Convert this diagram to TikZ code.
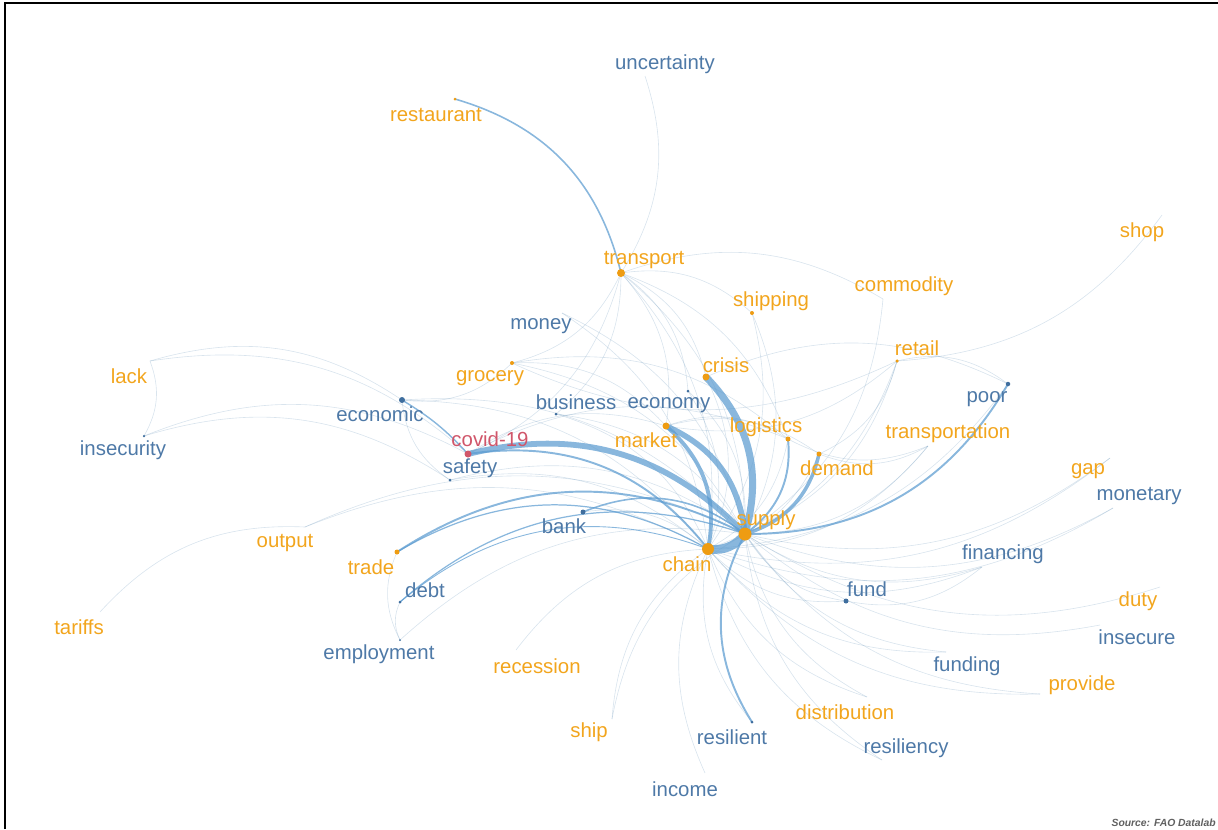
\documentclass[tikz,border=0pt]{standalone}
\usepackage{fontspec}
\setmainfont{Liberation Sans}
\usetikzlibrary{positioning}
\definecolor{wordorange}{HTML}{F2A51D}
\definecolor{wordblue}{HTML}{4E79A7}
\definecolor{wordred}{HTML}{D0566A}
\definecolor{linkblue}{HTML}{5B9BD0}
\definecolor{dotorange}{HTML}{EE9C12}
\definecolor{dotblue}{HTML}{3F6E9E}
\tikzset{
  termO/.style={text=wordorange, inner sep=0pt, font=\fontsize{11.6}{13}\selectfont},
  termB/.style={termO, text=wordblue},
  termR/.style={termO, text=wordred},
  dotO/.style={circle, fill=dotorange, inner sep=0pt, minimum size=#1},
  dotO/.default=0.6mm,
  dotB/.style={circle, fill=dotblue, inner sep=0pt, minimum size=#1},
  dotB/.default=0.6mm,
  strong/.style={draw=linkblue, opacity=0.72, line width=#1},
  faint/.style={draw=linkblue!70!gray, opacity=0.25, line width=0.35pt},
}
\begin{document}
\begin{tikzpicture}[x=0.02cm, y=-0.02cm]
  \useasboundingbox (0,0) rectangle (1218,829);
  \draw[line width=1.1pt] (5,829) -- (5,3) -- (1218,3);

  % word positions (dots)
  \coordinate (uncertainty) at (645,76);
  \coordinate (restaurant) at (455,99);
  \coordinate (transport) at (621,273);
  \coordinate (shipping) at (752,313);
  \coordinate (commodity) at (883,299);
  \coordinate (shop) at (1162,215);
  \coordinate (retail) at (897,361);
  \coordinate (poor) at (1008,384);
  \coordinate (money) at (562,313);
  \coordinate (lack) at (150,361);
  \coordinate (insecurity) at (144,436);
  \coordinate (economic) at (402,400);
  \coordinate (grocery) at (512,363);
  \coordinate (business) at (556,414);
  \coordinate (economy) at (688,391);
  \coordinate (crisis) at (706,377);
  \coordinate (covid) at (468,454);
  \coordinate (safety) at (450,480);
  \coordinate (market) at (666,426);
  \coordinate (logistics) at (788,439);
  \coordinate (demand) at (819,454);
  \coordinate (transportation) at (928,446);
  \coordinate (gap) at (1110,458);
  \coordinate (monetary) at (1113,508);
  \coordinate (supply) at (745,534);
  \coordinate (chain) at (708,549);
  \coordinate (bank) at (583,512);
  \coordinate (trade) at (397,552);
  \coordinate (output) at (305,527);
  \coordinate (debt) at (400,602);
  \coordinate (tariffs) at (100,612);
  \coordinate (employment) at (400,640);
  \coordinate (financing) at (982,567);
  \coordinate (fund) at (846,601);
  \coordinate (duty) at (1160,587);
  \coordinate (insecure) at (1100,625);
  \coordinate (funding) at (946,652);
  \coordinate (provide) at (1040,694);
  \coordinate (recession) at (516,650);
  \coordinate (ship) at (612,719);
  \coordinate (resilient) at (752,722);
  \coordinate (distribution) at (867,697);
  \coordinate (resiliency) at (882,760);
  \coordinate (income) at (705,773);

  % faint links
  \foreach \a/\b in {uncertainty/transport, transport/supply, transport/chain,
      transport/market, transport/grocery, transport/shipping, transport/commodity,
      transport/crisis, transport/logistics, transport/covid, transport/business,
      transport/economy, shipping/supply, shipping/chain, commodity/supply,
      retail/supply, retail/chain, retail/market, retail/grocery, retail/poor,
      crisis/poor, shop/retail, transportation/supply, transportation/logistics,
      transportation/demand, transportation/chain, gap/supply, gap/chain,
      monetary/supply, monetary/chain, financing/supply, financing/chain,
      financing/fund, fund/supply, fund/chain, duty/supply, insecure/supply,
      funding/supply, funding/chain, provide/supply, provide/chain,
      distribution/supply, distribution/chain, resiliency/supply, resiliency/chain,
      income/chain, ship/chain, ship/supply, recession/chain, employment/supply,
      employment/debt, employment/trade, tariffs/output, output/supply, output/chain,
      safety/supply, safety/chain, safety/economic, insecurity/safety, insecurity/covid,
      lack/economic, lack/covid, lack/insecurity, grocery/supply, grocery/economic,
      grocery/market, grocery/logistics, money/supply, money/chain, business/supply,
      business/chain, economy/supply, economy/chain, bank/chain, economic/supply,
      economic/chain, market/demand, market/logistics, covid/market, covid/logistics,
      demand/chain, logistics/chain, crisis/chain, poor/chain, retail/demand,
      resilient/chain}
    \draw[faint] (\a) to[bend left=25] (\b);

  % strong links
  \foreach \a/\b/\w in {supply/chain/5pt, crisis/supply/4pt, covid/supply/3.3pt,
      market/supply/3.2pt, market/chain/2.2pt, demand/supply/2pt, covid/chain/1.1pt,
      logistics/supply/1.1pt, poor/supply/1.1pt, trade/supply/1.1pt,
      resilient/supply/1.1pt, bank/supply/0.9pt, restaurant/transport/0.9pt,
      trade/chain/0.7pt, debt/supply/0.7pt, debt/chain/0.5pt}
    \draw[strong=\w] (\a) to[bend left=30] (\b);
  \draw[strong=0.8pt] (economic) to[bend left=8] (covid);

  % dots
  \node[dotO=2.6mm] (supply-d) at (supply) {};
  \node[dotO=2.4mm] (chain-d) at (chain) {};
  \node[dotO=1.6mm] (transport-d) at (transport) {};
  \node[dotO=1.4mm] (market-d) at (market) {};
  \node[dotO=1.4mm] (crisis-d) at (crisis) {};
  \node[circle, fill=wordred, inner sep=0pt, minimum size=1.4mm] (covid-d) at (covid) {};
  \node[dotB=1.2mm] (economic-d) at (economic) {};
  \node[dotO=1mm] (logistics-d) at (logistics) {};
  \node[dotO=1mm] (demand-d) at (demand) {};
  \node[dotO=1mm] (trade-d) at (trade) {};
  \node[dotB=1mm] (bank-d) at (bank) {};
  \node[dotB=1mm] (fund-d) at (fund) {};
  \node[dotB=0.9mm] (poor-d) at (poor) {};
  \node[dotO=0.8mm] (grocery-d) at (grocery) {};
  \node[dotO=0.8mm] (shipping-d) at (shipping) {};
  \node[dotO=0.7mm] (retail-d) at (retail) {};
  \node[dotO] (restaurant-d) at (restaurant) {};
  \node[dotB] (business-d) at (business) {};
  \node[dotB] (economy-d) at (economy) {};
  \node[dotB] (safety-d) at (safety) {};
  \node[dotB] (debt-d) at (debt) {};
  \node[dotB] (resilient-d) at (resilient) {};
  \node[dotB=0.5mm] (insecurity-d) at (insecurity) {};
  \node[dotB=0.4mm] (employment-d) at (employment) {};

  % words
  \node[termB] (uncertainty-t) at (665,64) {uncertainty};
  \node[termO] (restaurant-t) at (436,115) {restaurant};
  \node[termO] (transport-t) at (644,260) {transport};
  \node[termO] (shipping-t) at (771,301) {shipping};
  \node[termO] (commodity-t) at (904,286) {commodity};
  \node[termO] (shop-t) at (1142,232) {shop};
  \node[termO] (retail-t) at (917,348) {retail};
  \node[termB] (poor-t) at (987,399) {poor};
  \node[termB] (money-t) at (541,326) {money};
  \node[termO] (lack-t) at (129,376) {lack};
  \node[termB] (insecurity-t) at (123,450) {insecurity};
  \node[termB] (economic-t) at (380,414) {economic};
  \node[termO] (grocery-t) at (490,378) {grocery};
  \node[termB] (business-t) at (576,402) {business};
  \node[termB] (economy-t) at (669,405) {economy};
  \node[termO] (crisis-t) at (726,365) {crisis};
  \node[termR] (covid-t) at (490,439) {covid-19};
  \node[termB] (safety-t) at (470,468) {safety};
  \node[termO] (market-t) at (646,440) {market};
  \node[termO] (logistics-t) at (766,427) {logistics};
  \node[termO] (demand-t) at (837,468) {demand};
  \node[termO] (transportation-t) at (948,433) {transportation};
  \node[termO] (gap-t) at (1088,471) {gap};
  \node[termB] (monetary-t) at (1139,496) {monetary};
  \node[termO] (supply-t) at (766,520) {supply};
  \node[termO] (chain-t) at (687,564) {chain};
  \node[termB] (bank-t) at (564,526) {bank};
  \node[termO] (trade-t) at (371,567) {trade};
  \node[termO] (output-t) at (285,543) {output};
  \node[termB] (debt-t) at (425,590) {debt};
  \node[termO] (tariffs-t) at (79,627) {tariffs};
  \node[termB] (employment-t) at (379,654) {employment};
  \node[termB] (financing-t) at (1003,554) {financing};
  \node[termB] (fund-t) at (867,589) {fund};
  \node[termO] (duty-t) at (1138,601) {duty};
  \node[termB] (insecure-t) at (1137,637) {insecure};
  \node[termB] (funding-t) at (967,666) {funding};
  \node[termO] (provide-t) at (1082,685) {provide};
  \node[termO] (recession-t) at (537,666) {recession};
  \node[termO] (ship-t) at (589,732) {ship};
  \node[termB] (resilient-t) at (732,737) {resilient};
  \node[termO] (distribution-t) at (845,712) {distribution};
  \node[termB] (resiliency-t) at (906,748) {resiliency};
  \node[termB] (income-t) at (685,789) {income};

  \node[anchor=base east, inner sep=0pt, text=gray!75!black,
    font=\fontsize{5.9}{7}\selectfont\bfseries\itshape] (source) at (1216,826) {Source: FAO Datalab};
\end{tikzpicture}
\end{document}
